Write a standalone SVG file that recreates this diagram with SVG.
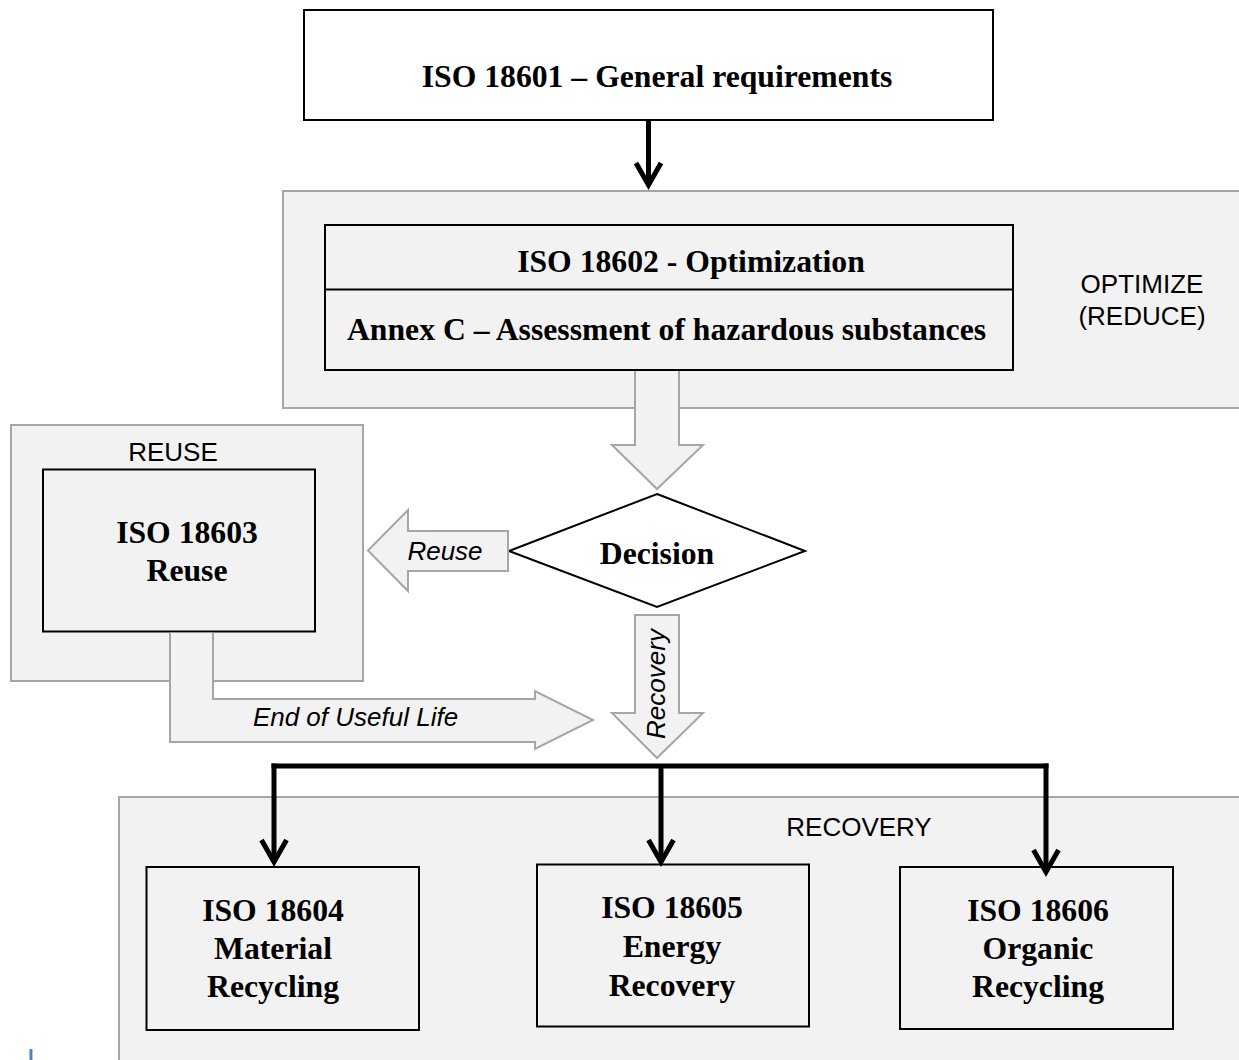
<svg xmlns="http://www.w3.org/2000/svg" width="1239" height="1060" viewBox="0 0 1239 1060">
<defs>
<style>
.cont{fill:#f2f2f2;stroke:#a6a6a6;stroke-width:2}
.box{fill:#f2f2f2;stroke:#000;stroke-width:2}
.wbox{fill:#fff;stroke:#000;stroke-width:2}
.big{fill:#f2f2f2;stroke:#a6a6a6;stroke-width:2}
.ln{fill:none;stroke:#000;stroke-width:5}
.tb{font-family:"Liberation Serif","Times New Roman",serif;font-weight:bold;font-size:31.7px;fill:#000;text-anchor:middle}
.ta{font-family:"Liberation Sans",Arial,sans-serif;font-size:26px;fill:#000;text-anchor:middle}
.ti{font-family:"Liberation Sans",Arial,sans-serif;font-size:26px;font-style:italic;fill:#000;text-anchor:middle}
</style>
<marker id="vh" markerUnits="userSpaceOnUse" markerWidth="40" markerHeight="40" viewBox="-30 -20 40 40" refX="0" refY="0" orient="auto" overflow="visible">
<path d="M-22,-12.5 L0,0 L-22,12.5" fill="none" stroke="#000" stroke-width="5" stroke-linejoin="miter"/>
</marker>
</defs>
<rect width="1239" height="1060" fill="#fff"/>

<g id="optimize-area">
<rect class="cont" x="283" y="191" width="970" height="217"/>
<text class="ta" x="1142" y="293">OPTIMIZE</text>
<text class="ta" x="1142" y="325">(REDUCE)</text>
</g>
<g id="reuse-area">
<rect class="cont" x="11" y="425" width="352" height="256"/>
<text class="ta" x="173" y="461">REUSE</text>
</g>
<g id="recovery-area">
<rect class="cont" x="119" y="797" width="1130" height="280"/>
<text class="ta" x="859" y="836">RECOVERY</text>
</g>

<g id="iso18601">
<rect class="wbox" x="304" y="10" width="689" height="110"/>
<text class="tb" x="657" y="87">ISO 18601 – General requirements</text>
</g>
<g id="iso18602">
<rect class="box" x="325" y="225" width="688" height="145"/>
<line x1="325" y1="289.5" x2="1013" y2="289.5" stroke="#000" stroke-width="2"/>
<text class="tb" x="691" y="272">ISO 18602 - Optimization</text>
<text class="tb" x="666.5" y="340">Annex C – Assessment of hazardous substances</text>
</g>
<g id="iso18603">
<rect class="box" x="43" y="469.5" width="272" height="162"/>
<text class="tb" x="187" y="543">ISO 18603</text>
<text class="tb" x="187" y="581">Reuse</text>
</g>
<g id="decision">
<polygon class="wbox" points="657,494 805,551 657,607 509,551"/>
<text class="tb" x="657" y="564">Decision</text>
</g>
<g id="iso18604">
<rect class="box" x="146.5" y="867" width="272.5" height="163"/>
<text class="tb" x="273" y="921">ISO 18604</text>
<text class="tb" x="273" y="959">Material</text>
<text class="tb" x="273" y="997">Recycling</text>
</g>
<g id="iso18605">
<rect class="box" x="537" y="864.5" width="272" height="162"/>
<text class="tb" x="672" y="918">ISO 18605</text>
<text class="tb" x="672" y="957">Energy</text>
<text class="tb" x="672" y="996">Recovery</text>
</g>
<g id="iso18606">
<rect class="box" x="900" y="867" width="273" height="162"/>
<text class="tb" x="1038" y="921">ISO 18606</text>
<text class="tb" x="1038" y="959">Organic</text>
<text class="tb" x="1038" y="997">Recycling</text>
</g>

<g id="connectors">
<path class="big" d="M635,371 V445 H612 L657,489 L703,445 H679 V371"/>
<path class="big" d="M508,531 H408 V510 L368,550.5 L408,591 V571 H508 Z"/>
<path class="big" d="M635,615 H679 V713 H703 L657,758 L612,713 H635 Z"/>
<text class="ti" x="445" y="560">Reuse</text>
<text class="ti" transform="translate(665,684) rotate(-90)" x="0" y="0">Recovery</text>
<path class="big" d="M213,632.7 V699 H535 V691 L593,720 L535,749 V742 H170 V632.7"/>
<text class="ti" x="355.5" y="726">End of Useful Life</text>
<path class="ln" d="M648.5,121 V185" marker-end="url(#vh)"/>
<path class="ln" d="M271.5,766 H1048.5"/>
<path class="ln" d="M274,763.5 V862" marker-end="url(#vh)"/>
<path class="ln" d="M661,766 V862" marker-end="url(#vh)"/>
<path class="ln" d="M1046,763.5 V872" marker-end="url(#vh)"/>
</g>

<rect x="29.5" y="1049" width="2.5" height="11" fill="#4f81bd"/>
<rect x="32" y="1049" width="0.8" height="11" fill="#e6a0a0"/>
</svg>
